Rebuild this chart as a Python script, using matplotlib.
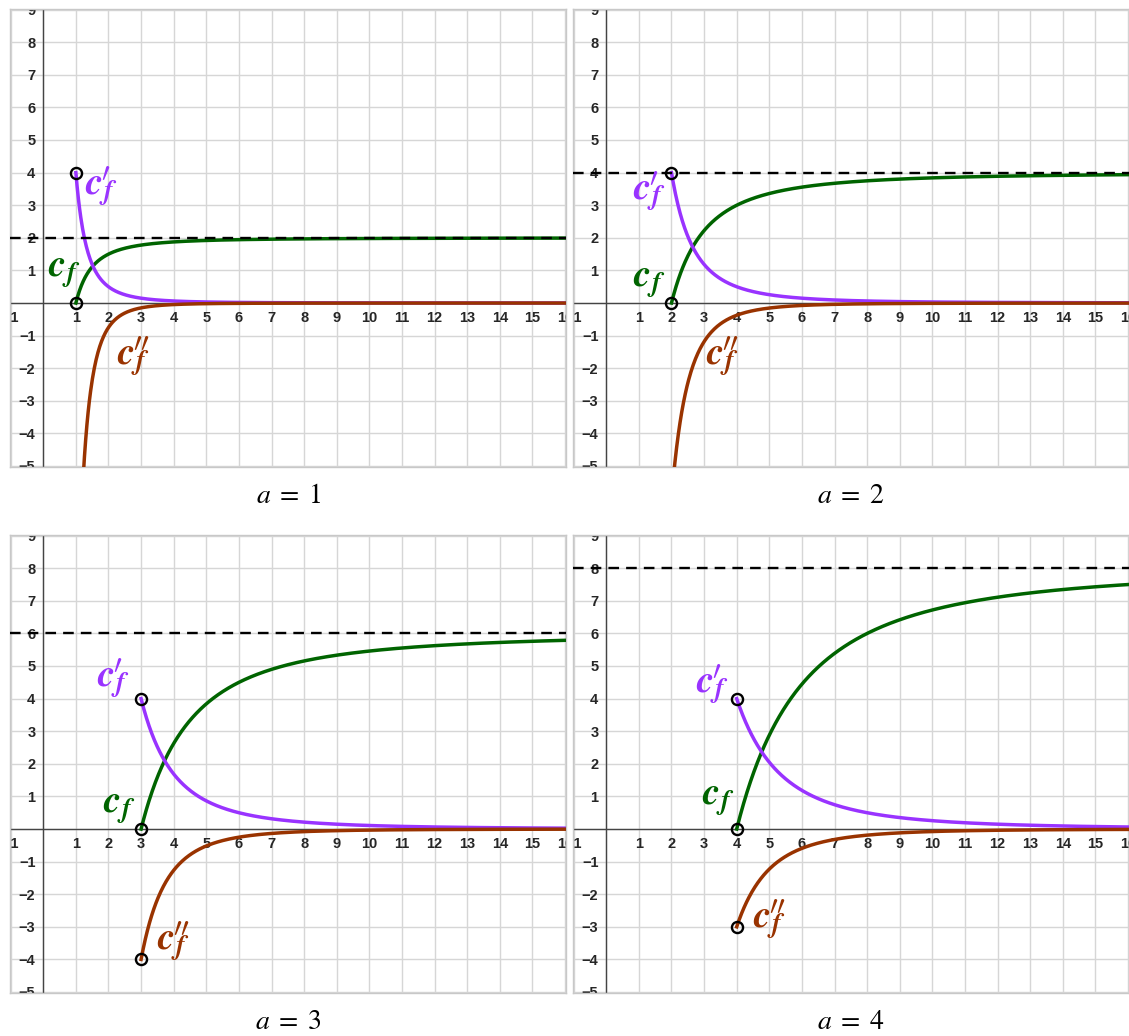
import numpy as np
import matplotlib.pyplot as plt

plt.rcParams['mathtext.fontset'] = 'stix'

# parameter of each panel
a_values = [1, 2, 3, 4]
captions = [r'$a\;=\;1$', r'$a\;=\;2$', r'$a\;=\;3$', r'$a\;=\;4$']

# label anchors (left x, baseline y) for c_f, c_f', c_f''
lbl_cf = [(0.14, 0.8), (0.83, 0.5), (1.84, 0.5), (2.95, 0.75)]
lbl_cf1 = [(1.28, 3.32), (0.83, 3.16), (1.65, 4.35), (2.74, 4.19)]
lbl_cf2 = [(2.26, -1.9), (3.07, -1.9), (3.5, -3.71), (4.49, -3.04)]

green = '#006400'
purple = '#9933ff'
brown = '#993300'

xmin, xmax = -1.02, 16.03
ymin, ymax = -5.03, 9.02


def cf(x, a):
    return 2 * a * (1 - a**2 / x**2)


def cf1(x, a):
    return 4 * a**3 / x**3


def cf2(x, a):
    return -12 * a**3 / x**4


def curve_label(ax, pos, n_primes, color):
    # c_f in bold italic, primes drawn on top of the subscript
    ax.text(pos[0], pos[1], r'$\mathbfit{c}_{\mathbfit{f}}$', color=color,
            fontsize=28, va='baseline', ha='left', zorder=6)
    if n_primes:
        ax.annotate('$' + r'\prime' * n_primes + '$', pos,
                    xytext=(11.5, 16.5), textcoords='offset points',
                    color=color, fontsize=20, math_fontfamily='cm',
                    ha='left', va='center', zorder=6)


W, H = 1129, 1036
fig = plt.figure(figsize=(W / 100, H / 100), dpi=100)

# panel boxes in pixels: left, top, right, bottom
boxes = [(10, 9, 566, 467), (573, 9, 1129, 467),
         (10, 535, 566, 993), (573, 535, 1129, 993)]

tick_kw = dict(fontsize=10.5, fontweight='bold', color='#262626',
               family='Liberation Sans', clip_on=True, zorder=1)

for i, a in enumerate(a_values):
    l, t, r, b = boxes[i]
    ax = fig.add_axes([l / W, 1 - b / H, (r - l) / W, (b - t) / H])
    ax.set_xlim(xmin, xmax)
    ax.set_ylim(ymin, ymax)
    ax.set_xticks([])
    ax.set_yticks([])
    for s in ax.spines.values():
        s.set_color('#c8c8c8')
        s.set_linewidth(1)

    # grid
    for gx in range(-1, 17):
        ax.axvline(gx, color='#d6d6d6', lw=1, zorder=0)
    for gy in range(-5, 10):
        ax.axhline(gy, color='#d6d6d6', lw=1, zorder=0)
    ax.axvline(0, color='#444444', lw=1, zorder=1)
    ax.axhline(0, color='#444444', lw=1, zorder=1)

    # tick labels
    for gx in range(-1, 17):
        if gx == 0:
            continue
        txt = str(gx) if gx > 0 else '\u2212' + str(-gx)
        ax.text(gx, -0.45, txt, ha='center', va='center', **tick_kw)
    for gy in range(-5, 10):
        if gy == 0:
            continue
        txt = str(gy) if gy > 0 else '\u2212' + str(-gy)
        ax.text(-0.24, gy - 0.04, txt, ha='right', va='center', **tick_kw)

    x = np.linspace(a, xmax, 800)
    ax.axhline(2 * a, color='black', lw=1.7, ls=(0, (4.5, 3)), zorder=4)
    ax.plot(x, cf(x, a), color=green, lw=2.5, zorder=3)
    ax.plot(x, cf1(x, a), color=purple, lw=2.5, zorder=3)
    ax.plot(x, cf2(x, a), color=brown, lw=2.5, zorder=3)

    pts = [(a, cf(a, a)), (a, cf1(a, a)), (a, cf2(a, a))]
    for px, py in pts:
        if py > ymin:
            ax.plot(px, py, 'o', ms=8, mfc='none', mec='black', mew=1.7,
                    zorder=5)

    curve_label(ax, lbl_cf[i], 0, green)
    curve_label(ax, lbl_cf1[i], 1, purple)
    curve_label(ax, lbl_cf2[i], 2, brown)

    fig.text((l + r) / 2 / W, 1 - (b + 28) / H, captions[i], ha='center',
             va='center', fontsize=20)

fig.savefig('out.png', dpi=100)
